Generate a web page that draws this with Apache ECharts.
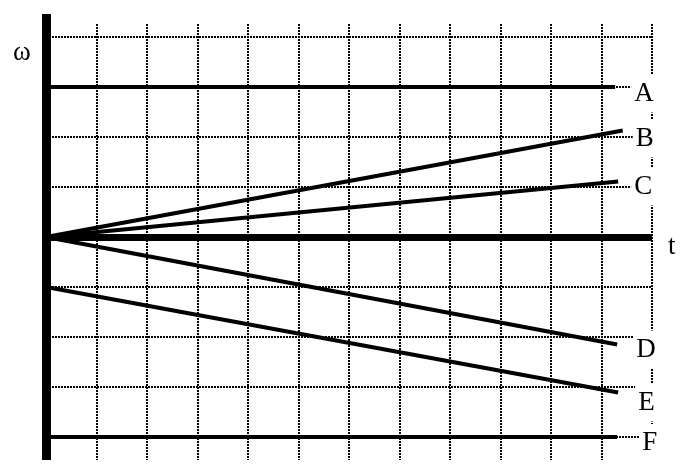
<!DOCTYPE html>
<html>
<head>
<meta charset="utf-8">
<script src="https://cdn.jsdelivr.net/npm/echarts@6/dist/echarts.min.js"></script>
<style>html,body{margin:0;padding:0;background:#fff;}#c{width:682px;height:476px;}</style>
</head>
<body>
<div id="c"></div>
<script>
// ---- data ----
const seriesNames = ['A', 'B', 'C', 'D', 'E', 'F'];
const lineA = [[0, 3], [11.27, 3]];
const lineB = [[0, 0], [11.42, 2.13]];
const lineC = [[0, 0], [11.33, 1.11]];
const lineD = [[0, 0], [11.31, -2.15]];
const lineE = [[0, -1], [11.33, -3.11]];
const lineF = [[0, -4], [11.31, -4]];
const gridRows = [4, 3, 2, 1, -1, -2, -3, -4];
const gridCols = [1, 2, 3, 4, 5, 6, 7, 8, 9, 10, 11, 12];
const tMin = 0, tMax = 12;
const wMin = -4.46, wMax = 4.46;
const gridColTop = 4.26;
const yName = 'ω';
const xName = 't';

// ---- styles ----
const labelOffsets = [[16, 6.5], [10, 8], [13, 5], [16, 5], [17, 10], [22, 6]];
const serif = '"Liberation Serif", "Times New Roman", serif';
const allLines = [lineA, lineB, lineC, lineD, lineE, lineF];

const gridSegs = [];
gridRows.forEach(v => gridSegs.push([{coord: [tMin, v]}, {coord: [tMax, v]}]));
gridCols.forEach(t => gridSegs.push([{coord: [t, gridColTop]}, {coord: [t, wMin]}]));

const series = [{
  type: 'line', data: [], z: 1, silent: true,
  markLine: {
    silent: true, symbol: ['none', 'none'], label: {show: false},
    lineStyle: {type: [2, 1], width: 2, color: '#000'},
    emphasis: {disabled: true},
    animation: false,
    data: gridSegs
  }
}];
allLines.forEach((d, i) => {
  series.push({
    type: 'line', name: seriesNames[i], data: d, z: 5,
    showSymbol: false, symbol: 'none', silent: true,
    lineStyle: {color: '#000', width: 4, cap: 'butt'},
    endLabel: {
      show: true, formatter: seriesNames[i], distance: 0,
      offset: labelOffsets[i],
      fontFamily: serif, fontSize: 27, color: '#000',
      backgroundColor: '#fff', padding: [6, 4, 6, 3], lineHeight: 26
    },
    emphasis: {disabled: true}
  });
});

const chart = echarts.init(document.getElementById('c'), null, {renderer: 'canvas'});
chart.setOption({
  animation: false,
  backgroundColor: '#fff',
  grid: {left: 46, right: 30, top: 14, bottom: 16, containLabel: false},
  xAxis: {
    type: 'value', min: tMin, max: tMax, interval: 1,
    axisLine: {show: true, onZero: true, lineStyle: {color: '#000', width: 7, cap: 'butt'}},
    axisTick: {show: false}, axisLabel: {show: false}, splitLine: {show: false}
  },
  yAxis: {
    type: 'value', min: wMin, max: wMax,
    axisLine: {show: true, onZero: false, lineStyle: {color: '#000', width: 9, cap: 'butt'}},
    axisTick: {show: false}, axisLabel: {show: false}, splitLine: {show: false}
  },
  graphic: [
    {type: 'text', left: 13, top: 39, style: {text: yName, font: '27px ' + serif, fill: '#000'}},
    {type: 'text', left: 668, top: 233, style: {text: xName, font: '27px ' + serif, fill: '#000'}}
  ],
  series: series
});
</script>
</body>
</html>
